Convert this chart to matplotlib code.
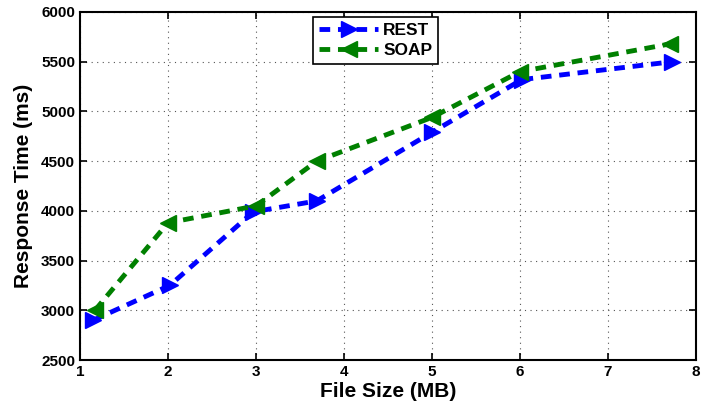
import matplotlib
matplotlib.use("Agg")
import matplotlib.pyplot as plt

plt.rcParams['font.family'] = ['Liberation Sans', 'DejaVu Sans']
plt.rcParams['font.weight'] = 'bold'

# data
rest_x = [1.15, 2.02, 2.97, 3.69, 5.0, 6.02, 7.73]
rest_y = [2900, 3250, 3990, 4100, 4790, 5320, 5500]
soap_x = [1.17, 2.0, 3.0, 3.69, 5.0, 6.0, 7.71]
soap_y = [3000, 3880, 4050, 4500, 4940, 5400, 5680]

fig = plt.figure(figsize=(7.02, 4.09), dpi=100)
ax = fig.add_axes([80/702, 49/409, 616/702, 348/409])

ax.plot(rest_x, rest_y, '--', color=(0, 0, 1), lw=3.5, marker='>', ms=12,
        dashes=(2.2, 1.6), label='REST')
ax.plot(soap_x, soap_y, '--', color=(0, 0.5, 0), lw=3.5, marker='<', ms=12,
        dashes=(2.2, 1.6), label='SOAP')

ax.set_xlim(1, 8)
ax.set_ylim(2500, 6000)
ax.set_xticks(range(1, 9))
ax.set_yticks(range(2500, 6001, 500))
ax.grid(True, linestyle=(0, (1, 4)), color='#555555', lw=0.8)
ax.tick_params(direction='in', labelsize=11, width=1.2, length=5,
               top=True, right=True)
for s in ax.spines.values():
    s.set_linewidth(1.5)

ax.set_xlabel('File Size (MB)', fontsize=15, fontweight='bold', labelpad=2)
ax.set_ylabel('Response Time (ms)', fontsize=15, fontweight='bold', labelpad=6)

leg = ax.legend(loc='upper center', bbox_to_anchor=(0.48, 0.985), fontsize=12.5,
                fancybox=False, edgecolor='black', framealpha=1,
                handlelength=3.4, borderpad=0.35, labelspacing=0.25,
                handletextpad=0.3, borderaxespad=0)
leg.get_frame().set_linewidth(1.2)

fig.savefig('out.png', dpi=100)
